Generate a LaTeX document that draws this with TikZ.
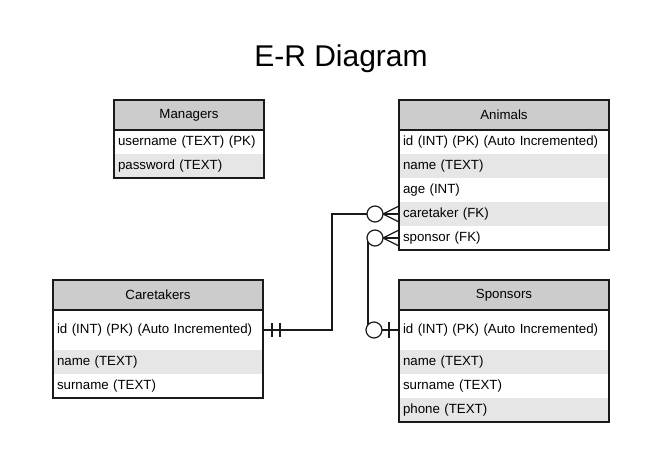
\documentclass[tikz,border=0pt]{standalone}
\usepackage{fontspec}
\setmainfont{Liberation Sans}
\usepackage{tikz}
\usepackage{xcolor}
\usetikzlibrary{positioning,calc}
\definecolor{ink}{HTML}{1A1A1A}
\definecolor{headbg}{HTML}{CCCCCC}
\definecolor{rowbg}{HTML}{E6E6E6}

\tikzset{
  tablehead/.style={draw=ink,line width=1.2pt,fill=headbg,anchor=north west,
        outer sep=0pt,inner sep=0pt,minimum width=#1,minimum height=30pt,
        font=\fontsize{13.3}{16}\selectfont},
  field/.style={outer sep=0pt,inner xsep=4pt,inner ysep=0pt,text width=#1,
        minimum height=24pt,align=left,font=\fontsize{13.3}{16}\selectfont},
  field/.default=202pt,
  plainrow/.style={field=#1,fill=white},
  plainrow/.default=202pt,
  greyrow/.style={field=#1,fill=rowbg},
  greyrow/.default=202pt,
  tableframe/.style={draw=ink,line width=1.2pt},
  link/.style={draw=ink,line width=1.2pt}
}

\begin{document}
\begin{tikzpicture}[x=1pt,y=-1pt]
  \useasboundingbox (0,0) rectangle (670,476);
  \node[anchor=base,font=\fontsize{30}{36}\selectfont] (title) at (341,67) {E-R Diagram};

  % Managers
  \node[tablehead=150pt] (mg-h) at (114,100) {Managers};
  \node[plainrow=142pt,below=0pt of mg-h] (mg-1) {username (TEXT) (PK)};
  \node[greyrow=142pt,below=0pt of mg-1] (mg-2) {password (TEXT)};
  \draw[tableframe] (mg-h.north west) rectangle (mg-2.south east);
  \draw[tableframe] (mg-h.south west) -- (mg-h.south east);

  % Animals
  \node[tablehead=210pt] (an-h) at (399,100) {Animals};
  \node[plainrow,below=0pt of an-h] (an-1) {id (INT) (PK) (Auto Incremented)};
  \node[greyrow,below=0pt of an-1] (an-2) {name (TEXT)};
  \node[plainrow,below=0pt of an-2] (an-3) {age (INT)};
  \node[greyrow,below=0pt of an-3] (an-4) {caretaker (FK)};
  \node[plainrow,below=0pt of an-4] (an-5) {sponsor (FK)};
  \draw[tableframe] (an-h.north west) rectangle (an-5.south east);
  \draw[tableframe] (an-h.south west) -- (an-h.south east);

  % Caretakers
  \node[tablehead=210pt] (ct-h) at (53,280) {Caretakers};
  \node[plainrow,minimum height=40pt,below=0pt of ct-h] (ct-1) {id (INT) (PK) (Auto Incremented)};
  \node[greyrow,below=0pt of ct-1] (ct-2) {name (TEXT)};
  \node[plainrow,below=0pt of ct-2] (ct-3) {surname (TEXT)};
  \draw[tableframe] (ct-h.north west) rectangle (ct-3.south east);
  \draw[tableframe] (ct-h.south west) -- (ct-h.south east);

  % Sponsors
  \node[tablehead=210pt] (sp-h) at (399,280) {Sponsors};
  \node[plainrow,minimum height=40pt,below=0pt of sp-h] (sp-1) {id (INT) (PK) (Auto Incremented)};
  \node[greyrow,below=0pt of sp-1] (sp-2) {name (TEXT)};
  \node[plainrow,below=0pt of sp-2] (sp-3) {surname (TEXT)};
  \node[greyrow,below=0pt of sp-3] (sp-4) {phone (TEXT)};
  \draw[tableframe] (sp-h.north west) rectangle (sp-4.south east);
  \draw[tableframe] (sp-h.south west) -- (sp-h.south east);

  % relations
  \draw[link] (ct-1.east) -- ++(69,0) |- (an-4.west);
  \draw[link] (an-5.west) -- ++(-31,0) |- (sp-1.west);

  % caretaker: one and only one
  \draw[link] ($(ct-1.east)+(9,-7)$) -- ($(ct-1.east)+(9,7)$);
  \draw[link] ($(ct-1.east)+(17,-7)$) -- ($(ct-1.east)+(17,7)$);
  % animals side: zero or many
  \draw[link] ($(an-4.west)+(-16,0)$) -- ($(an-4.west)+(0,-8)$);
  \draw[link] ($(an-4.west)+(-16,0)$) -- ($(an-4.west)+(0,8)$);
  \draw[link,fill=white] ($(an-4.west)+(-24,0)$) circle[radius=8pt];
  \draw[link] ($(an-5.west)+(-16,0)$) -- ($(an-5.west)+(0,-8)$);
  \draw[link] ($(an-5.west)+(-16,0)$) -- ($(an-5.west)+(0,8)$);
  \draw[link,fill=white] ($(an-5.west)+(-24,0)$) circle[radius=8pt];
  % sponsor: zero or one
  \draw[link] ($(sp-1.west)+(-10,-8)$) -- ($(sp-1.west)+(-10,8)$);
  \draw[link,fill=white] ($(sp-1.west)+(-25,0)$) circle[radius=8pt];
\end{tikzpicture}
\end{document}
